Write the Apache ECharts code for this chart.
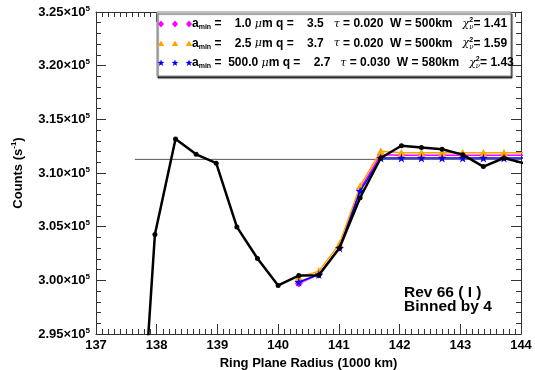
<!DOCTYPE html>
<html><head><meta charset="utf-8">
<script src="https://cdn.jsdelivr.net/npm/echarts@6/dist/echarts.min.js"></script>
<style>html,body{margin:0;padding:0;background:#fff}#c{width:535px;height:370px}</style>
</head><body><div id="c"></div><script>
// ---- data ----
const radiusAll = [137.63,137.97,138.31,138.65,138.98,139.32,139.66,140.00,140.34,140.67,141.01,141.35,141.69,142.03,142.36,142.70,143.04,143.38,143.72,144.05];
const countsObs = [275000,304260,313170,311740,310920,304980,302030,299520,300450,300480,303020,307690,311400,312540,312380,312220,311710,310600,311400,310900];
const radiusModel = [140.34,140.67,141.01,141.35,141.69,142.03,142.36,142.70,143.04,143.38,143.72,144.05];
const model1 = [299700,300550,303050,308500,311700,311650,311650,311650,311650,311650,311650,311650];
const model2 = [300300,300860,303400,308790,312030,311880,311880,311880,311880,311880,311880,311880];
const model3 = [299840,300540,303020,308310,311400,311400,311400,311400,311400,311400,311400,311400];
const refRadius = [137.64,144.0];
const refLevel = 311270;
const xTicks = [137,138,139,140,141,142,143,144];
const amin = ['1.0','2.5','500.0'];
const qv = ['3.5','3.7','2.7'];
const tau = ['0.020','0.020','0.030'];
const Wv = ['500km','500km','580km'];
const chi2 = ['1.41','1.59','1.43'];
const annot = ['Rev 66 ( I )','Binned by 4'];

const colors = ['#ff00ff','#ffa500','#0000ff'];
const starPath = 'path://M50,0L61,35L98,35L68,57L79,91L50,70L21,91L32,57L2,35L39,35Z';
const FF = '"Liberation Sans", Arial, Helvetica, sans-serif';

function pairs(xs, ys){ return xs.map((x,i)=>[x, ys[i]]); }
function pad6(s){ while(s.length<6) s=' '+s; return s; }

function starPts(cx,cy,R,r){
  const p=[];
  for(let i=0;i<10;i++){
    const a=-Math.PI/2+i*Math.PI/5, rr=(i%2===0)?R:r;
    p.push([cx+rr*Math.cos(a), cy+rr*Math.sin(a)]);
  }
  return p;
}
function diamondPts(cx,cy){ return [[cx,cy-3.5],[cx+3,cy],[cx,cy+3.5],[cx-3,cy]]; }
function triPts(cx,cy){ return [[cx,cy-3],[cx+3.3,cy+2.5],[cx-3.3,cy+2.5]]; }

const rich = {
  b:{fontFamily:FF,fontWeight:'bold',fontSize:12,lineHeight:14,color:'#000'},
  s:{fontFamily:FF,fontWeight:'bold',fontSize:7,lineHeight:6,verticalAlign:'bottom',color:'#000'},
  g:{fontFamily:'"DejaVu Serif", serif',fontStyle:'italic',fontSize:11,lineHeight:14,color:'#000'},
  p:{fontFamily:FF,fontWeight:'bold',fontSize:7,lineHeight:8,verticalAlign:'top',width:0,color:'#000'},
  v:{fontFamily:'"DejaVu Serif", serif',fontStyle:'italic',fontSize:7,lineHeight:6,verticalAlign:'bottom',color:'#000'}
};

const rowsY = [24,43.5,63];
const markX = [161,175,189];
const graphics = [{
  type:'rect', z:100,
  shape:{x:157,y:12,width:354,height:64},
  style:{fill:'#fff',stroke:'#888',lineWidth:1,shadowColor:'rgba(0,0,0,0.75)',shadowOffsetY:2,shadowOffsetX:1,shadowBlur:1}
}];
for(let i=0;i<3;i++){
  for(const mx of markX){
    const pts = i===0?diamondPts(mx,rowsY[i]):(i===1?triPts(mx,rowsY[i]):starPts(mx,rowsY[i],3.6,1.5));
    graphics.push({type:'polygon',z:101,shape:{points:pts},style:{fill:colors[i]}});
  }
  const txt = `{b|a}{s|min}{b| = ${pad6(amin[i])} }{g|μ}{b|m q = ${pad6(qv[i])}   }{g|τ}{b| = ${tau[i]}  W = ${Wv[i]}   }{g|χ}{p|2}{v|ν}{b|= ${chi2[i]}}`;
  graphics.push({type:'text',z:101,x:192,y:rowsY[i],style:{text:txt,rich:rich,verticalAlign:'middle',align:'left'}});
}
graphics.push({type:'text',z:101,x:404,y:286,style:{text:annot.join('\n'),fontFamily:FF,fontWeight:'bold',fontSize:15.5,lineHeight:13.7,fill:'#000',verticalAlign:'top'}});

const axisCommon = {
  axisLine:{show:true,onZero:false,lineStyle:{color:'#333',width:1}},
  axisTick:{show:true,inside:true,length:10,lineStyle:{color:'#333',width:1}},
  minorTick:{show:true,length:5,lineStyle:{color:'#333',width:1}},
  splitLine:{show:false}
};
const xBase = Object.assign({type:'value',min:xTicks[0],max:xTicks[xTicks.length-1],interval:1}, axisCommon);
xBase.minorTick = Object.assign({}, axisCommon.minorTick, {splitNumber:10});
const yBase = Object.assign({type:'value',min:295000,max:325000,interval:5000}, axisCommon);
yBase.minorTick = Object.assign({}, axisCommon.minorTick, {splitNumber:5});

const option = {
  animation:false,
  backgroundColor:'#fff',
  grid:{left:96,right:14,top:12,bottom:36,containLabel:false,outerBoundsMode:'none'},
  xAxis:[
    Object.assign({}, xBase, {position:'bottom',
      name:'Ring Plane Radius (1000 km)',nameLocation:'middle',nameGap:20,
      nameTextStyle:{fontFamily:FF,fontWeight:'bold',fontSize:13,color:'#000'},
      axisLabel:{show:true,margin:5,fontFamily:FF,fontWeight:'bold',fontSize:13,color:'#000',formatter:v=>String(v)}}),
    Object.assign({}, xBase, {position:'top',axisLabel:{show:false}})
  ],
  yAxis:[
    Object.assign({}, yBase, {position:'left',
      name:'{n|Counts (s}{p|-1}{n|)}',nameLocation:'middle',nameGap:70,nameRotate:90,
      nameTextStyle:{rich:{n:{fontFamily:FF,fontWeight:'bold',fontSize:13,lineHeight:16,color:'#000'},p:{fontFamily:FF,fontWeight:'bold',fontSize:8,lineHeight:8,verticalAlign:'top',color:'#000'}}},
      axisLabel:{show:true,margin:6,formatter:v=>'{m|'+(v/1e5).toFixed(2)+'×10}{p|5}',
        rich:{m:{fontFamily:FF,fontWeight:'bold',fontSize:13,lineHeight:15,color:'#000'},p:{fontFamily:FF,fontWeight:'bold',fontSize:8,lineHeight:8,verticalAlign:'top',color:'#000'}}}}),
    Object.assign({}, yBase, {position:'right',axisLabel:{show:false}})
  ],
  series:[
    {type:'line',name:'ref',data:pairs(refRadius,[refLevel,refLevel]),showSymbol:false,symbol:'none',lineStyle:{color:'#555',width:1},z:1,silent:true},
    {type:'line',name:'m1',data:pairs(radiusModel,model1),symbol:'diamond',symbolSize:8,itemStyle:{color:colors[0]},lineStyle:{color:colors[0],width:1.5},z:2},
    {type:'line',name:'m2',data:pairs(radiusModel,model2),symbol:'triangle',symbolSize:8,itemStyle:{color:colors[1]},lineStyle:{color:colors[1],width:1.5},z:3},
    {type:'line',name:'m3',data:pairs(radiusModel,model3),symbol:starPath,symbolSize:9,itemStyle:{color:colors[2]},lineStyle:{color:colors[2],width:1.5},z:4},
    {type:'line',name:'obs',data:pairs(radiusAll,countsObs),symbol:'circle',symbolSize:5,itemStyle:{color:'#000'},lineStyle:{color:'#000',width:2.5},z:5}
  ],
  graphic:graphics
};
const chart = echarts.init(document.getElementById('c'),null,{renderer:'canvas'});
chart.setOption(option);
</script></body></html>
